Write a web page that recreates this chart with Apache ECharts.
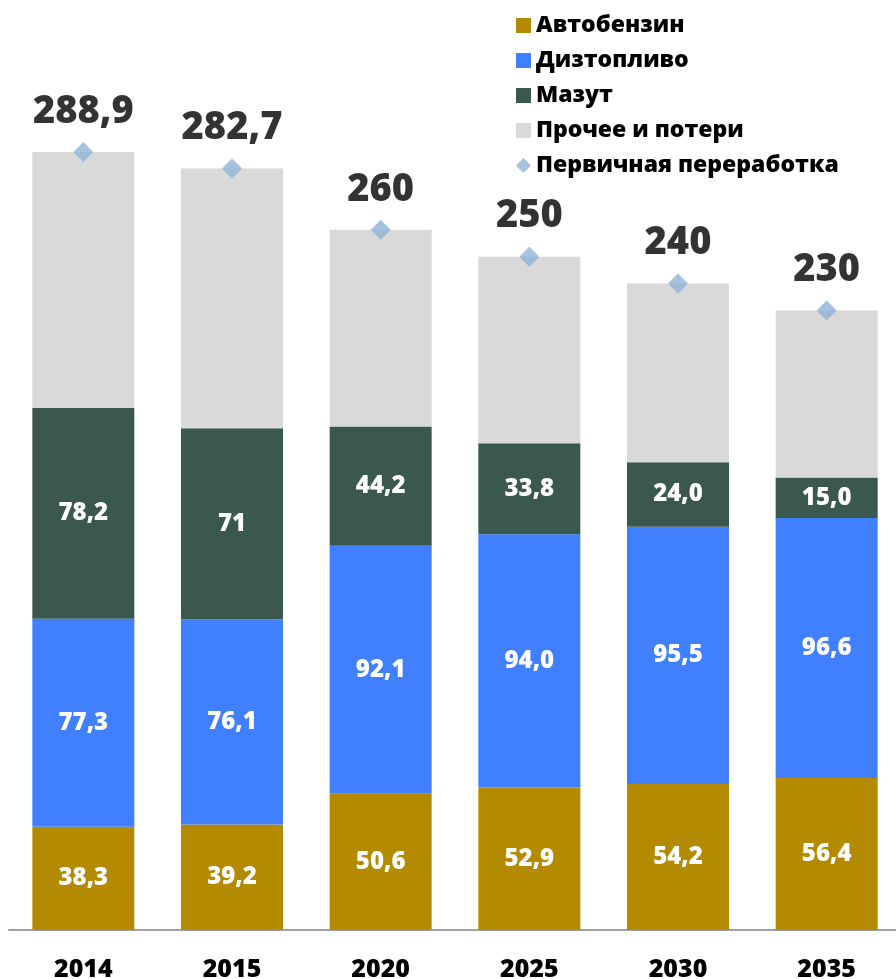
<!DOCTYPE html>
<html>
<head>
<meta charset="utf-8">
<script src="https://cdn.jsdelivr.net/npm/echarts@6/dist/echarts.min.js"></script>
<style>
  html, body { margin: 0; padding: 0; background: #fff; }
  #chart { width: 896px; height: 979px; }
</style>
</head>
<body>
<div id="chart"></div>
<script>
  // данные
  var years = ['2014', '2015', '2020', '2025', '2030', '2035'];
  var gasoline = [38.3, 39.2, 50.6, 52.9, 54.2, 56.4];
  var diesel = [77.3, 76.1, 92.1, 94.0, 95.5, 96.6];
  var fuelOil = [78.2, 71, 44.2, 33.8, 24.0, 15.0];
  var other = [95.1, 96.4, 73.1, 69.3, 66.3, 62.0];
  var primary = [288.9, 282.7, 260, 250, 240, 230];

  var gasolineLabels = ['38,3', '39,2', '50,6', '52,9', '54,2', '56,4'];
  var dieselLabels = ['77,3', '76,1', '92,1', '94,0', '95,5', '96,6'];
  var fuelOilLabels = ['78,2', '71', '44,2', '33,8', '24,0', '15,0'];
  var primaryLabels = ['288,9', '282,7', '260', '250', '240', '230'];

  var numFont = '"Open Sans", sans-serif';
  var segLabel = function (arr) {
    return {
      show: true,
      position: 'inside',
      color: '#fff',
      fontFamily: numFont,
      fontWeight: 800,
      fontSize: 24,
      formatter: function (p) { return arr[p.dataIndex]; },
    };
  };

  var chart = echarts.init(document.getElementById('chart'));
  var option = {
    animation: false,
    grid: {left: 9, width: 892, top: 122, bottom: 49, outerBoundsMode: 'none'},
    legend: {
      orient: 'vertical',
      left: 511,
      top: 8,
      itemWidth: 15,
      itemHeight: 15,
      itemGap: 10,
      textStyle: {
        fontFamily: '"Open Sans", sans-serif',
        fontWeight: 800,
        fontSize: 23,
        lineHeight: 25,
        color: '#000',
      },
      data: [
        {name: 'Автобензин', icon: 'rect'},
        {name: 'Дизтопливо', icon: 'rect'},
        {name: 'Мазут', icon: 'rect'},
        {name: 'Прочее и потери', icon: 'rect'},
        {name: 'Первичная переработка', icon: 'diamond'},
      ],
    },
    xAxis: {
      type: 'category',
      data: years,
      axisLine: {lineStyle: {color: '#a0a0a0', width: 2}},
      axisTick: {show: false},
      axisLabel: {
        margin: 27,
        color: '#000',
        fontFamily: numFont,
        fontWeight: 800,
        fontSize: 25,
      },
    },
    yAxis: {
      type: 'value',
      min: 0,
      max: 300,
      show: false,
      splitLine: {show: false},
    },
    series: [
      {
        name: 'Автобензин',
        type: 'bar',
        stack: 'total',
        barWidth: 102,
        itemStyle: {color: '#b38a00'},
        label: segLabel(gasolineLabels),
        data: gasoline,
      },
      {
        name: 'Дизтопливо',
        type: 'bar',
        stack: 'total',
        itemStyle: {color: '#4080ff'},
        label: segLabel(dieselLabels),
        data: diesel,
      },
      {
        name: 'Мазут',
        type: 'bar',
        stack: 'total',
        itemStyle: {color: '#3b584f'},
        label: segLabel(fuelOilLabels),
        data: fuelOil,
      },
      {
        name: 'Прочее и потери',
        type: 'bar',
        stack: 'total',
        itemStyle: {color: '#d9d9d9'},
        data: other,
      },
      {
        name: 'Первичная переработка',
        type: 'scatter',
        symbol: 'diamond',
        symbolSize: [20, 20],
        itemStyle: {color: '#8fb3d6'},
        label: {
          show: true,
          position: 'top',
          distance: 11,
          color: '#000',
          fontFamily: numFont,
          fontWeight: 800,
          fontSize: 38,
          formatter: function (p) { return primaryLabels[p.dataIndex]; },
        },
        z: 5,
        data: primary,
      },
    ],
  };
  chart.setOption(option);
</script>
</body>
</html>
